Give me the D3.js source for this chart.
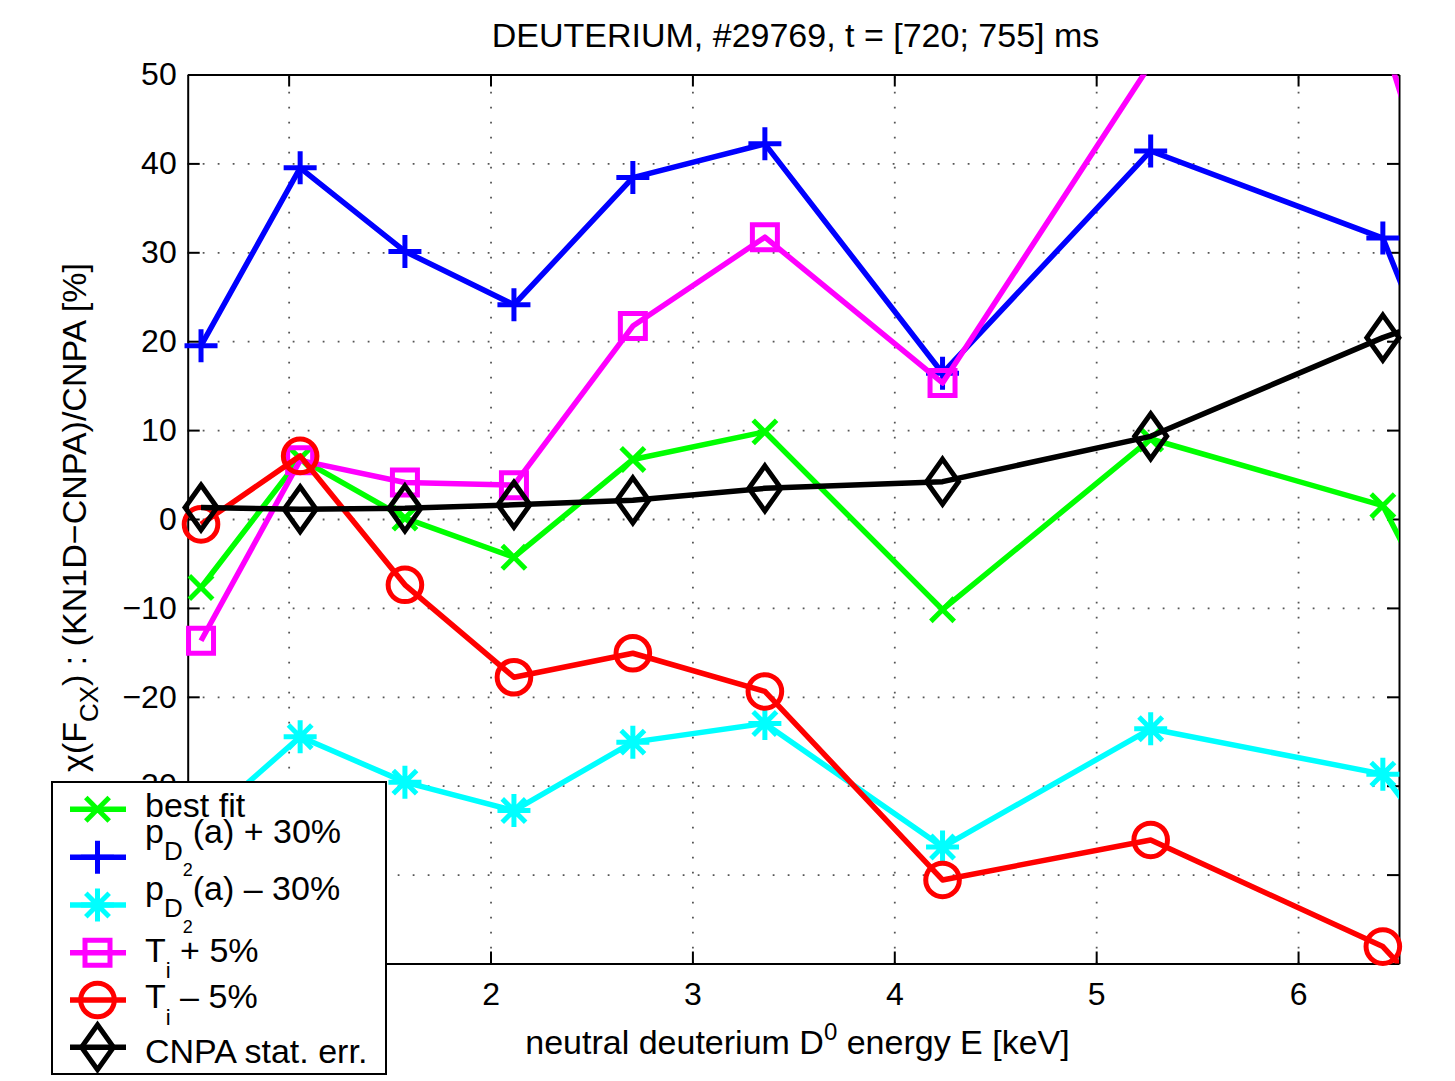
<!DOCTYPE html>
<html>
<head>
<meta charset="utf-8">
<script src="https://cdn.jsdelivr.net/npm/d3@7"></script>
<style>
  html, body { margin: 0; padding: 0; background: #fff; }
  svg { display: block; }
  text { font-family: "Liberation Sans", Arial, Helvetica, sans-serif; fill: #000; white-space: pre; }
</style>
</head>
<body>
<svg id="chart" width="1455" height="1081"></svg>
<script>
// Neutral deuterium energies of the CNPA channels [keV]
const energy   = [0.566, 1.057, 1.576, 2.116, 2.705, 3.359, 4.239, 5.270, 6.420, 7.720];

// chi(F_CX) = (KN1D - CNPA)/CNPA [%] for each scenario
const bestFit  = [-7.7, 6.8, 0.1, -4.3, 6.7, 9.8, -10.2, 9.0, 1.5, -55.8];
const pD2Plus  = [19.5, 39.5, 30.1, 24.1, 38.4, 42.2, 16.4, 41.4, 31.6, -42.2];
const pD2Minus = [-34.3, -24.5, -29.6, -32.8, -25.1, -23.0, -36.9, -23.6, -28.7, -67.4];
const tiPlus   = [-13.7, 6.6, 4.1, 3.8, 21.7, 31.7, 15.3, 51.2, 54.2, -40.3];
const tiMinus  = [-0.6, 7.1, -7.4, -17.8, -15.1, -19.4, -40.6, -36.1, -48.1, -80.0];
const cnpaErr  = [1.3, 1.1, 1.2, 1.6, 2.1, 3.45, 4.2, 9.3, 20.4, 30.7];

// Axis ticks
const xTickValues = [1, 2, 3, 4, 5, 6];
const yTickValues = [-50, -40, -30, -20, -10, 0, 10, 20, 30, 40, 50];

const titleText = "DEUTERIUM, #29769, t = [720; 755] ms";

// Plot frame
const W = 1455, H = 1081;
const frame = { left: 187.7, right: 1399, top: 74.5, bottom: 963.5 };
const MINUS = "\u2212";
const LABEL_FS = 34, TICK_FS = 32;

const x = d3.scaleLinear().domain([0.5, 6.5]).range([frame.left, frame.right]);
const y = d3.scaleLinear().domain([-50, 50]).range([frame.bottom, frame.top]);

const svg = d3.select("#chart");
svg.append("rect").attr("width", W).attr("height", H).attr("fill", "#fff");

svg.append("defs").append("clipPath").attr("id", "plotClip")
  .append("rect")
  .attr("x", frame.left).attr("y", frame.top)
  .attr("width", frame.right - frame.left).attr("height", frame.bottom - frame.top);

// ---- dotted grid ----
const plotH = frame.bottom - frame.top, plotW = frame.right - frame.left;
const gridStyle = g => {
  g.select(".domain").remove();
  g.selectAll("text").remove();
  g.selectAll("line").attr("stroke", "#555").attr("stroke-width", 1.8).attr("stroke-dasharray", "1.8,13.2");
};
svg.append("g").attr("transform", `translate(0,${frame.bottom})`)
  .call(d3.axisBottom(x).tickValues(xTickValues).tickSize(-plotH).tickFormat(""))
  .call(gridStyle);
svg.append("g").attr("transform", `translate(${frame.left},0)`)
  .call(d3.axisLeft(y).tickValues(yTickValues.filter(v => v > -50 && v < 50)).tickSize(-plotW).tickFormat(""))
  .call(gridStyle);

// ---- axes (box with inward ticks) ----
const fmt = v => (v < 0 ? MINUS + Math.abs(v) : String(v));
const axisStyle = (g, fs) => {
  g.select(".domain").attr("stroke", "#000").attr("stroke-width", 2);
  g.selectAll(".tick line").attr("stroke", "#000").attr("stroke-width", 2);
  g.selectAll("text").attr("fill", "#000").style("font-size", fs + "px")
    .attr("font-family", null);
};
svg.append("g").attr("transform", `translate(0,${frame.bottom})`)
  .call(d3.axisBottom(x).tickValues(xTickValues).tickSize(-12).tickSizeOuter(0).tickPadding(18.5).tickFormat(fmt))
  .call(g => axisStyle(g, TICK_FS));
svg.append("g").attr("transform", `translate(0,${frame.top})`)
  .call(d3.axisTop(x).tickValues(xTickValues).tickSize(-12).tickSizeOuter(0).tickFormat(""))
  .call(g => axisStyle(g, TICK_FS));
svg.append("g").attr("transform", `translate(${frame.left},0)`)
  .call(d3.axisLeft(y).tickValues(yTickValues).tickSize(-12).tickSizeOuter(0).tickPadding(11).tickFormat(fmt))
  .call(g => axisStyle(g, TICK_FS));
svg.append("g").attr("transform", `translate(${frame.right},0)`)
  .call(d3.axisRight(y).tickValues(yTickValues).tickSize(-12).tickSizeOuter(0).tickFormat(""))
  .call(g => axisStyle(g, TICK_FS));

// ---- marker glyphs ----
const circlePath = (() => { const p = d3.path(); p.arc(0, 0, 16.8, 0, 2 * Math.PI); p.closePath(); return p.toString(); })();
const markerPath = {
  times:   "M-11.7,-11.7L11.7,11.7M-11.7,11.7L11.7,-11.7",
  plus:    "M-16.5,0H16.5M0,-16.5V16.5",
  star:    "M-16.5,0H16.5M0,-16.5V16.5M-11.7,-11.7L11.7,11.7M-11.7,11.7L11.7,-11.7",
  square:  "M-12.5,-12.5H12.5V12.5H-12.5Z",
  circle:  circlePath,
  diamond: "M0,-22.5L16,0L0,22.5L-16,0Z"
};

const series = [
  { values: bestFit,  color: "#00ff00", marker: "times" },
  { values: pD2Plus,  color: "#0000ff", marker: "plus" },
  { values: pD2Minus, color: "#00ffff", marker: "star" },
  { values: tiPlus,   color: "#ff00ff", marker: "square" },
  { values: tiMinus,  color: "#ff0000", marker: "circle" },
  { values: cnpaErr,  color: "#000000", marker: "diamond" }
];

const line = d3.line().x(d => x(d.e)).y(d => y(d.v));
const [x0, x1] = x.domain(), [y0, y1] = y.domain();

series.forEach(s => {
  const pts = energy.map((e, i) => ({ e, v: s.values[i] }));
  const g = svg.append("g");
  g.append("path")
    .attr("clip-path", "url(#plotClip)")
    .attr("d", line(pts))
    .attr("fill", "none").attr("stroke", s.color)
    .attr("stroke-width", 5.5).attr("stroke-linejoin", "round");
  g.selectAll("path.mk")
    .data(pts.filter(p => p.e >= x0 && p.e <= x1 && p.v >= y0 && p.v <= y1))
    .join("path").attr("class", "mk")
    .attr("transform", p => `translate(${x(p.e)},${y(p.v)})`)
    .attr("d", markerPath[s.marker])
    .attr("fill", "none").attr("stroke", s.color).attr("stroke-width", 5);
});

// ---- title and axis labels ----
svg.append("text").attr("x", 795.5).attr("y", 47).attr("text-anchor", "middle")
  .style("font-size", LABEL_FS + "px").text(titleText);

const xl = svg.append("text").attr("x", 797.5).attr("y", 1054).attr("text-anchor", "middle").style("font-size", LABEL_FS + "px");
xl.append("tspan").text("neutral deuterium D");
xl.append("tspan").attr("dy", -14).style("font-size", "24px").text("0");
xl.append("tspan").attr("dy", 14).text(" energy E [keV]");

const yl = svg.append("text").attr("transform", "translate(86,517.5) rotate(-90)")
  .attr("text-anchor", "middle").style("font-size", LABEL_FS + "px");
yl.append("tspan").text("\u03c7(F");
yl.append("tspan").attr("dy", 12).style("font-size", "26px").text("CX");
yl.append("tspan").attr("dy", -12).text(") : (KN1D" + MINUS + "CNPA)/CNPA [%]");

// ---- legend ----
const legendRows = [
  { y: 809.3,  base: 816.7,  parts: [{ t: "best fit" }] },
  { y: 857.3,  base: 842.7,  parts: [{ t: "p" }, { t: "D", fs: 26, dy: 17.3 }, { t: "2", fs: 18, dy: 16 }, { t: "(a) + 30%", dy: -33.3 }] },
  { y: 905,    base: 900,    parts: [{ t: "p" }, { t: "D", fs: 26, dy: 17.3 }, { t: "2", fs: 18, dy: 16 }, { t: "(a) \u2013 30%", dy: -33.3 }] },
  { y: 952.7,  base: 961.7,  parts: [{ t: "T" }, { t: "i", fs: 22, dy: 16.5 }, { t: " + 5%", dy: -16.5 }] },
  { y: 1000,   base: 1008.3, parts: [{ t: "T" }, { t: "i", fs: 22, dy: 16.5 }, { t: " \u2013 5%", dy: -16.5 }] },
  { y: 1047.3, base: 1062.7, parts: [{ t: "CNPA stat. err." }] }
];

const legend = svg.append("g");
legend.append("rect").attr("x", 52).attr("y", 782).attr("width", 334).attr("height", 292)
  .attr("fill", "#fff").attr("stroke", "#000").attr("stroke-width", 2);

legendRows.forEach((row, i) => {
  const s = series[i];
  legend.append("line").attr("x1", 70).attr("x2", 126).attr("y1", row.y).attr("y2", row.y)
    .attr("stroke", s.color).attr("stroke-width", 5.5);
  legend.append("path").attr("transform", `translate(97.5,${row.y})`)
    .attr("d", markerPath[s.marker]).attr("fill", "none")
    .attr("stroke", s.color).attr("stroke-width", 5);
  const t = legend.append("text").attr("x", 145).attr("y", row.base).style("font-size", LABEL_FS + "px");
  row.parts.forEach(p => {
    const ts = t.append("tspan").text(p.t);
    if (p.fs) ts.style("font-size", p.fs + "px");
    if (p.dy) ts.attr("dy", p.dy);
  });
});
</script>
</body>
</html>
